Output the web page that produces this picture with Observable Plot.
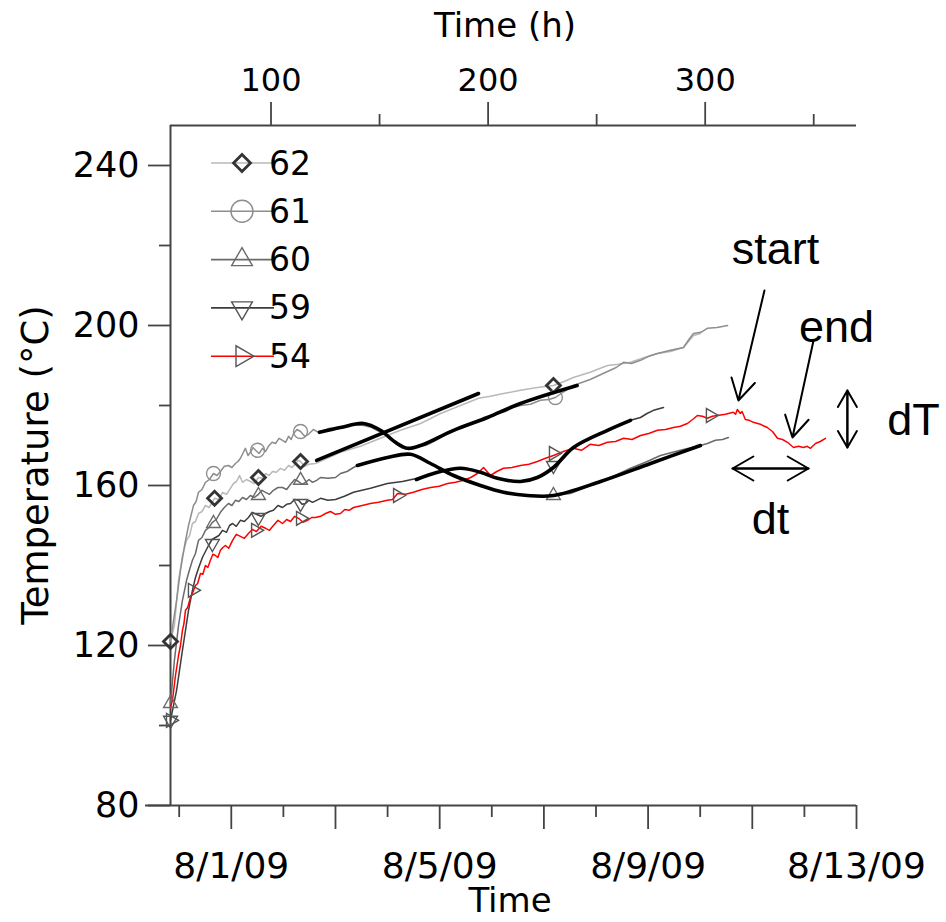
<!DOCTYPE html>
<html>
<head>
<meta charset="utf-8">
<script src="https://cdn.jsdelivr.net/npm/d3@7"></script>
<script src="https://cdn.jsdelivr.net/npm/@observablehq/plot@0.6"></script>
<style>
  html, body { margin: 0; padding: 0; background: #fff; }
</style>
</head>
<body>
<div id="chart"></div>
<script>
// ---------------- DATA ----------------
// x: elapsed time (h), y: temperature (°C)
const startTime = Date.UTC(2009, 6, 28, 14, 18); // elapsed-time origin
const xDomain = [53.7, 369.7];
const yDomain = [80, 250];
const bottomAxisStartHour = 42.2;

const yMajor = [80, 120, 160, 200, 240];
const yMinor = [100, 140, 180, 220];
const hourMajor = [100, 200, 300];
const hourMinor = [150, 250, 350];
const dayMajor = ["2009-08-01", "2009-08-03", "2009-08-05", "2009-08-07", "2009-08-09", "2009-08-11", "2009-08-13"];
const dayMinor = ["2009-07-31", "2009-08-02", "2009-08-04", "2009-08-06", "2009-08-08", "2009-08-10", "2009-08-12"];
const dayLabels = {"2009-08-01": "8/1/09", "2009-08-05": "8/5/09", "2009-08-09": "8/9/09", "2009-08-13": "8/13/09"};

const s62 = [[53.7,121],[55.5,125],[57.4,136.3],[59.2,142.5],[61.1,146.3],[62.5,147.5],[63.8,150.5],[65.2,151],[66.6,153],[68.2,153.5],[69.8,155],[71.5,154.5],[74.0,156.8],[75.8,156.5],[77.7,158.3],[79.5,157.8],[81.3,159.3],[82.7,160.5],[84.1,161],[85.5,162.5],[86.9,160.8],[88.7,161.5],[90.5,161],[92.3,160.5],[94.2,162],[95.8,161.8],[97.5,163],[99.1,162.5],[100.7,163.5],[102.5,163.3],[104.4,164.3],[106.2,163.8],[108.1,165],[109.7,164.5],[111.3,165.5],[112.5,166.3],[113.6,166],[115.5,164.8],[117.3,165.3],[120.5,165.5],[132,168.3],[141.2,169.8],[150.4,171.8],[159.6,173.8],[168.9,175.5],[178.1,178],[187.3,180],[195.6,181.8],[201,182.3],[207.1,183],[214.9,183.8],[222.7,184.5],[230.1,185],[235,186],[239.3,187],[247,188.3],[255,190],[260,190.3],[265.6,190.8],[272,192],[278,193],[284,193.5],[290,194.5],[294.6,197.5],[297.8,198]];
const s61 = [[53.7,121],[55.1,126.3],[56.5,131.3],[58.3,138.8],[60.2,145],[62.0,150],[64.3,155],[65.5,156],[66.6,158.3],[68.2,159],[69.8,160.8],[71.6,161.5],[73.5,163],[75.1,162.5],[76.7,163.5],[78.5,164.8],[80.4,165],[82,164.5],[83.6,165.5],[84.8,166],[85.9,166.8],[87,168],[88.2,169.3],[89.4,167.5],[90.5,168.3],[91.7,169.5],[92.9,168.8],[94.5,168],[96.1,169.3],[97.5,168.5],[98.8,169.8],[100.5,170.8],[102.1,170.5],[103.7,171.8],[105.3,171.3],[106.7,170.8],[108.1,172.3],[109.3,171.5],[110.4,173],[112,174],[113.6,173.5],[115.5,172.3],[117.3,172.8],[119.5,174],[121.9,173.3],[127,174.3],[132,174.3],[137,175.3],[142.6,175],[146.5,174.5],[150.4,173.3],[154,172],[157.3,170.5],[160.5,169.3],[164.2,169.5],[168,170],[171.2,170],[175,171],[178.1,172],[182,173.3],[185,173.8],[188.5,174.5],[191.9,175.3],[196,176.3],[199.7,176.8],[204,177.8],[208,178.5],[211.5,179.5],[214.9,180],[219.5,180.3],[224.1,181.3],[228,181.5],[231,182],[235,183.5],[239.3,185],[247,186.5],[255,188.5],[259,189.5],[262.4,190.8],[266,190.5],[270.2,191.3],[274,192.3],[278,193],[284,193.8],[290,194.5],[292.5,196.5],[294.6,198],[298,198.3],[301,199.3],[305.5,199.5],[310.3,200]];
const s60 = [[53.7,105.5],[55.5,116.3],[57.4,125],[59.2,131.3],[61.1,136.3],[62.5,139],[63.8,141.3],[65.2,143],[66.6,146.3],[68.2,147],[69.8,148.8],[71.4,149.5],[73.0,150.8],[74.8,151.5],[76.7,153.3],[78.5,154.5],[80.4,155.5],[82,155],[83.6,156.3],[85.2,156],[86.9,157],[88.7,156.5],[90.5,157.5],[92.3,157],[94.2,157.8],[95.8,158.8],[97.5,158.3],[99.3,157.8],[101.1,158.8],[103.2,159.5],[105.3,159.5],[107.2,159],[109.0,160.3],[110.9,161.5],[112.7,161],[114.3,160.3],[115.9,160.8],[117.5,161.5],[119.1,160.8],[121,161.3],[122.8,162],[126.2,161.8],[129.7,162],[132,163],[135,163.5],[138,164.5],[139.8,165],[146.5,166],[153.6,167],[159,167.5],[164.2,167.8],[169,167],[173.5,165.5],[179,164],[184.1,162.5],[190,161.3],[196.5,160],[202,159],[207.1,158.3],[213,157.8],[218.1,157.5],[224,157.3],[230.1,157.5],[237.9,158],[245,159.5],[251.8,161],[258.5,162.5],[265.6,164.3],[272.5,165.8],[279.4,167.5],[288.5,168.8],[297.8,170],[301,170.5],[304.7,171.3],[308,171.5],[310.7,172]];
const s59 = [[53.7,101.3],[56.5,108.8],[59.2,118.8],[62.0,128.8],[63.8,133.8],[65.2,137],[66.6,139.3],[68.4,142],[69.8,143.5],[71.2,145],[72.8,146.5],[74.4,147],[76,147.5],[77.7,148.8],[79.5,148.3],[80.9,150],[82.3,150.5],[84,149.8],[85.9,151.3],[87.7,151],[89.6,152],[91.4,153.3],[93.3,152.8],[95.4,152.3],[97.5,153],[99.3,153.5],[101.1,153.8],[103.2,155],[105.3,154.5],[107.2,155.3],[109.0,155.5],[110.9,156.5],[112.7,156.3],[114.3,155.3],[115.9,155.5],[117.5,156.3],[119.1,155.8],[121,156.3],[122.8,156.8],[126.2,156.3],[129.7,156.5],[133.8,157.3],[138,158.3],[145.8,159.3],[153.6,160.5],[160.5,161],[167.5,161.8],[176.7,163.3],[182,164],[187.3,164.3],[192,164],[196.5,163.3],[200.5,162.5],[204.3,161.8],[209.5,161.3],[214.9,161],[218.8,161.3],[222.7,162],[226.4,163],[230.1,164.5],[234.7,166.8],[239.3,169.5],[247,171.8],[255,173.8],[260.3,175],[265.6,176.3],[270.2,177],[273.2,178],[276.2,178.8],[280.8,179.5]];
const s54 = [[53.7,104.5],[54.6,106.3],[56.0,112.5],[57.4,117.5],[58.3,120],[59.2,123.8],[59.9,125.5],[60.6,128.8],[61.6,129.5],[62.9,132],[63.8,133],[65.2,135],[66.2,135.5],[67.5,138],[68.6,137.8],[69.8,140],[70.9,139.5],[72.1,141.3],[73.2,142.8],[74.4,142.5],[75.5,142],[76.7,143.8],[77.8,144.5],[79.0,145],[80.5,144.3],[82.3,146.3],[84,147.8],[85.9,147.3],[87.7,146.8],[89.6,148],[91.4,149],[93.3,148.5],[95.4,149.8],[97.5,149.3],[99.3,148.8],[101.1,150],[103.2,151.3],[105.3,150.5],[107.2,151.5],[109.0,151],[110.9,152.3],[112.7,151.8],[114.7,150.8],[116.8,151.3],[118.7,152],[120.5,152],[122.8,152.3],[125.1,153],[127.4,153.5],[129.7,152.8],[132,153],[134,154],[136,153.8],[138,154.5],[142,155],[145.8,155.5],[149.5,155.8],[153.6,156.3],[156,156.5],[158.3,158],[162,157.8],[165.6,158.3],[169.5,159],[173.5,159.5],[177.5,159.8],[181.3,160.5],[185,160.8],[188.7,161.3],[192,162],[195.1,163],[197.9,164.5],[199.5,163.5],[201.1,162.5],[204,163.5],[207.1,164.3],[211,164.5],[214.9,165],[218.8,165.3],[222.7,166],[226.4,166.8],[230.1,167.5],[234.7,168.5],[239.3,169.3],[243,168.8],[247,170.3],[251,170],[255,170.8],[258.7,171],[262.4,171.8],[266.3,171.5],[270.2,172.5],[274,173],[278,173.8],[281.7,174],[285.4,174.5],[288.6,174.8],[291.8,175.5],[294.2,176.5],[296.4,177.5],[298.7,177.3],[301,176.8],[303.3,177.3],[305.6,177.5],[309.3,177.8],[313,178.3],[314,177.8],[314.8,179],[316.2,178],[317,178.5],[318.5,176.5],[320.3,176.3],[322.2,175.8],[325.4,175.3],[328.6,174.5],[331,173.5],[333.3,171.8],[335.6,171.5],[337.9,170.8],[340.7,169.5],[343,169.8],[345.3,169.5],[347,169.8],[348.5,169.3],[350.8,170.5],[353,171],[355.4,171.8]];

// marker samples
const m62 = [[53.7,121],[74.0,156.8],[94.2,162],[113.6,166],[230.1,185]];
const m61 = [[73.5,163],[93.8,168.8],[113.6,173.5],[231.0,182]];
const m60 = [[53.7,105.5],[73.5,150.5],[94.2,157.5],[113.6,161.3],[230.1,157.5]];
const m59 = [[53.7,101.3],[73.0,145.5],[94.2,152],[113.6,155.5],[230.1,165]];
const m54 = [[53.7,101.3],[63.8,133.8],[92.9,148.8],[113.6,151.8],[158.3,157.5],[230.1,168],[302.4,177.5]];

// fitted curves (thick black)
const fitA = [[121.0,166.3],[195.6,183]];
const fitB = [[122.3,173.3],[132,174.5],[142.6,175.5],[150.4,173.8],[157.3,170.8],[162.9,169.3],[168.9,170],[184.1,173.8],[199.7,177],[214.9,180.5],[241.0,185]];
const fitC = [[139.8,165],[153.6,167],[164.2,167.8],[173.5,165.5],[184.1,162.5],[196.5,160],[207.1,158.3],[218.1,157.5],[230.1,157.5],[251.8,161],[274.8,165.5],[297.8,170]];
const fitD = [[167.0,161.5],[176.7,163.3],[187.3,164.3],[196.5,163.3],[204.3,161.8],[214.9,161],[222.7,162],[230.1,164.5],[239.3,169.5],[255.0,173.8],[265.6,176.3]];

// annotations
const annoTexts = [
  {label: "start", h: 332.4, T: 218.9},
  {label: "end", h: 360.5, T: 199.6},
  {label: "dT", h: 395.9, T: 176.35},
  {label: "dt", h: 330.1, T: 151.6}
];
const annoArrows = [
  {h1: 327.3, T1: 208.75, h2: 315.3, T2: 181.25},
  {h1: 349.9, T1: 196.25, h2: 340.2, T2: 172},
  {h1: 365.5, T1: 169.5, h2: 365.5, T2: 183.75},
  {h1: 365.5, T1: 183.75, h2: 365.5, T2: 169.5},
  {h1: 347.6, T1: 164.25, h2: 312.6, T2: 164.25},
  {h1: 312.6, T1: 164.25, h2: 347.6, T2: 164.25}
];

// ---------------- SYMBOLS ----------------
const diamondSym = {draw(c, size) { const r = Math.sqrt(size / Math.PI); c.moveTo(0, -r); c.lineTo(r, 0); c.lineTo(0, r); c.lineTo(-r, 0); c.closePath(); }};
const circleSym = {draw(c, size) { const r = Math.sqrt(size / Math.PI); c.moveTo(r, 0); c.arc(0, 0, r, 0, 2 * Math.PI); }};
const triUp = {draw(c, size) { const r = Math.sqrt(size / Math.PI); c.moveTo(0, -r); c.lineTo(0.866 * r, 0.5 * r); c.lineTo(-0.866 * r, 0.5 * r); c.closePath(); }};
const triDown = {draw(c, size) { const r = Math.sqrt(size / Math.PI); c.moveTo(0, r); c.lineTo(0.866 * r, -0.5 * r); c.lineTo(-0.866 * r, -0.5 * r); c.closePath(); }};
const triRight = {draw(c, size) { const r = Math.sqrt(size / Math.PI); c.moveTo(r, 0); c.lineTo(-0.5 * r, 0.866 * r); c.lineTo(-0.5 * r, -0.866 * r); c.closePath(); }};

const series = [
  {name: "62", data: s62, marks: m62, color: "#b9b9b9", mColor: "#333", mWidth: 2.8, sym: diamondSym, r: 7, lr: 8.5},
  {name: "61", data: s61, marks: m61, color: "#8e8e8e", mColor: "#8e8e8e", mWidth: 1.4, sym: circleSym, r: 7, lr: 11},
  {name: "60", data: s60, marks: m60, color: "#6a6a6a", mColor: "#6a6a6a", mWidth: 1.4, sym: triUp, r: 8, lr: 12},
  {name: "59", data: s59, marks: m59, color: "#3c3c3c", mColor: "#555", mWidth: 1.4, sym: triDown, r: 8, lr: 12},
  {name: "54", data: s54, marks: m54, color: "#ff0000", mColor: "#555", mWidth: 1.4, sym: triRight, r: 8, lr: 12}
];

const toHour = d => (Date.parse(d) - startTime) / 3.6e6;
const dayMajorH = dayMajor.map(toHour);
const dayMinorH = dayMinor.map(toHour);
const labelByHour = new Map(dayMajor.map(d => [toHour(d), dayLabels[d] || ""]));

const axisColor = "#444";
const X = d => d[0], Y = d => d[1];

const marks = [
  // axis lines
  Plot.ruleX([xDomain[0]], {y1: yDomain[0], y2: yDomain[1], stroke: axisColor, strokeWidth: 2}),
  Plot.ruleY([yDomain[1]], {x1: xDomain[0], x2: xDomain[1], stroke: axisColor, strokeWidth: 2}),
  Plot.ruleY([yDomain[0]], {x1: bottomAxisStartHour, x2: xDomain[1], stroke: axisColor, strokeWidth: 2}),
  // axes
  Plot.axisY({ticks: yMajor, tickSize: 22, tickPadding: 9, fontSize: 35, label: null, stroke: axisColor, strokeWidth: 1.8}),
  Plot.axisY({ticks: yMinor, tickSize: 11, tickFormat: () => "", label: null, stroke: axisColor, strokeWidth: 1.8}),
  Plot.axisX({anchor: "top", ticks: hourMajor, tickSize: 24, tickPadding: 11, fontSize: 32, label: null, stroke: axisColor, strokeWidth: 1.8}),
  Plot.axisX({anchor: "top", ticks: hourMinor, tickSize: 12, tickFormat: () => "", label: null, stroke: axisColor, strokeWidth: 1.8}),
  Plot.axisX({anchor: "bottom", ticks: dayMajorH, tickSize: 24, tickPadding: 23, fontSize: 36, tickFormat: h => labelByHour.get(h) || "", label: null, stroke: axisColor, strokeWidth: 1.8}),
  Plot.axisX({anchor: "bottom", ticks: dayMinorH, tickSize: 12, tickFormat: () => "", label: null, stroke: axisColor, strokeWidth: 1.8})
];

for (const s of series) {
  marks.push(Plot.line(s.data, {x: X, y: Y, stroke: s.color, strokeWidth: 1.5}));
}
for (const s of series) {
  marks.push(Plot.dot(s.marks, {x: X, y: Y, symbol: s.sym, r: s.r, stroke: s.mColor, strokeWidth: s.mWidth, fill: "none"}));
}
for (const f of [fitA, fitB, fitC, fitD]) {
  marks.push(Plot.line(f, {x: X, y: Y, stroke: "#000", strokeWidth: 3.6, curve: "catmull-rom"}));
}
marks.push(Plot.arrow(annoArrows, {x1: "h1", y1: "T1", x2: "h2", y2: "T2", stroke: "#000", strokeWidth: 2, headLength: 18, headAngle: 60}));
marks.push(Plot.text(annoTexts, {x: "h", y: "T", text: "label", fontSize: 45, fontFamily: "Liberation Sans, Arial, sans-serif", fill: "#000", textAnchor: "middle"}));

const chart = Plot.plot({
  width: 946,
  height: 922,
  marginLeft: 170,
  marginRight: 90,
  marginTop: 125,
  marginBottom: 117,
  x: {domain: xDomain},
  y: {domain: yDomain},
  style: {fontFamily: "DejaVu Sans, Verdana, sans-serif", fontSize: "33px", background: "#fff", color: "#000", overflow: "visible"},
  marks
});
document.getElementById("chart").appendChild(chart);

// ---------------- axis titles & legend (layout) ----------------
const svg = d3.select(chart);
const ff = "DejaVu Sans, Verdana, sans-serif";
svg.append("text").attr("x", 505).attr("y", 25).attr("text-anchor", "middle").attr("dominant-baseline", "central")
  .attr("font-family", ff).attr("font-size", 34).attr("fill", "#000").text("Time (h)");
svg.append("text").attr("x", 510).attr("y", 900).attr("text-anchor", "middle").attr("dominant-baseline", "central")
  .attr("font-family", ff).attr("font-size", 34).attr("fill", "#000").text("Time");
svg.append("text").attr("transform", "translate(35,465) rotate(-90)").attr("text-anchor", "middle").attr("dominant-baseline", "central")
  .attr("font-family", ff).attr("font-size", 37).attr("fill", "#000").text("Temperature (°C)");

const lg = svg.append("g");
series.forEach((s, i) => {
  const y = 163 + i * 48.3;
  lg.append("line").attr("x1", 211).attr("x2", 274).attr("y1", y).attr("y2", y).attr("stroke", s.color).attr("stroke-width", 1.6);
  lg.append("path").attr("transform", `translate(242,${y})`)
    .attr("d", d3.symbol().type(s.sym).size(Math.PI * s.lr * s.lr)())
    .attr("fill", "none").attr("stroke", s.mColor).attr("stroke-width", s.mWidth);
  lg.append("text").attr("x", 290).attr("y", y).attr("dominant-baseline", "central")
    .attr("font-family", ff).attr("font-size", 33).attr("fill", "#000").text(s.name);
});
</script>
</body>
</html>
